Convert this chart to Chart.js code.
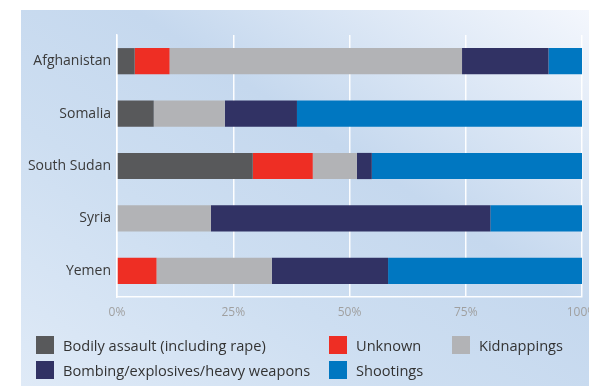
<!DOCTYPE html>
<html>
<head>
<meta charset="utf-8">
<script src="https://cdn.jsdelivr.net/npm/chart.js@4"></script>
<style>
  html, body { margin: 0; padding: 0; width: 589px; height: 386px; overflow: hidden; background: #fff; }
  #panel {
    position: absolute; left: 21px; top: 10px; width: 568px; height: 376px;
    background: linear-gradient(to top right, #dfeaf7 0%, #cddef1 35%, #c5d8ee 60%, #f4f7fd 100%);
  }
  #wrap { position: absolute; left: 0; top: 0; width: 610px; height: 386px; }
  #legend {
    position: absolute; left: 36px; top: 336px;
    display: grid; grid-template-columns: 293px 123px 130px; row-gap: 7px;
    font-family: "Open Sans", sans-serif; font-size: 14.6px; color: #333;
  }
  .item { display: flex; align-items: center; height: 18px; white-space: nowrap; }
  .box { width: 18px; height: 18px; margin-right: 9px; flex: none; }
</style>
</head>
<body>
<div id="panel"></div>
<div id="wrap"><canvas id="chart" width="610" height="386"></canvas></div>
<div id="legend"></div>
<script>
const countries = ['Afghanistan', 'Somalia', 'South Sudan', 'Syria', 'Yemen'];
const xTicks = [0, 25, 50, 75, 100];

// share of incidents by means, in percent
const bodily = [3.8, 7.9, 29.2, 0, 0];
const unknown = [7.5, 0, 12.9, 0, 8.5];
const kidnappings = [62.9, 15.3, 9.5, 20.2, 24.8];
const bombing = [18.6, 15.5, 3.2, 60.1, 25.0];
const shootings = [7.2, 61.3, 45.2, 19.7, 41.7];

const series = [
  { label: 'Bodily assault (including rape)', data: bodily, color: '#58595b' },
  { label: 'Unknown', data: unknown, color: '#ee2e24' },
  { label: 'Kidnappings', data: kidnappings, color: '#b2b3b6' },
  { label: 'Bombing/explosives/heavy weapons', data: bombing, color: '#313264' },
  { label: 'Shootings', data: shootings, color: '#0077c1' }
];

const ctx = document.getElementById('chart').getContext('2d');
const chart = new Chart(ctx, {
  type: 'bar',
  data: {
    labels: countries,
    datasets: series.map(s => ({
      label: s.label,
      data: s.data,
      backgroundColor: s.color,
      borderWidth: 0,
      barPercentage: 0.5,
      categoryPercentage: 1
    }))
  },
  options: {
    indexAxis: 'y',
    responsive: false,
    animation: false,
    layout: { padding: { top: 35, right: 28, left: 0, bottom: 0 } },
    plugins: { legend: { display: false }, tooltip: { enabled: false } },
    scales: {
      x: {
        stacked: true,
        min: 0,
        max: 100,
        afterBuildTicks: axis => { axis.ticks = xTicks.map(v => ({ value: v })); },
        afterFit: axis => { axis.height = 89; },
        grid: { color: 'rgba(255,255,255,0.95)', lineWidth: 1.5, drawTicks: false },
        border: { display: true, color: 'rgba(255,255,255,0.95)', width: 1.5 },
        ticks: {
          padding: 8,
          color: '#a0a0a0',
          font: { family: 'Open Sans', size: 12 },
          callback: v => v + '%'
        }
      },
      y: {
        stacked: true,
        afterFit: axis => { axis.width = 117; },
        grid: { display: false, drawTicks: false },
        border: { display: true, color: 'rgba(255,255,255,0.95)', width: 1.5 },
        ticks: {
          padding: 6,
          color: '#3a3a3a',
          font: { family: 'Open Sans', size: 14 }
        }
      }
    }
  }
});

// legend, three columns filled row by row
const legend = document.getElementById('legend');
series.forEach(s => {
  const item = document.createElement('div');
  item.className = 'item';
  item.innerHTML = '<span class="box" style="background:' + s.color + '"></span>' + s.label;
  legend.appendChild(item);
});
</script>
</body>
</html>
